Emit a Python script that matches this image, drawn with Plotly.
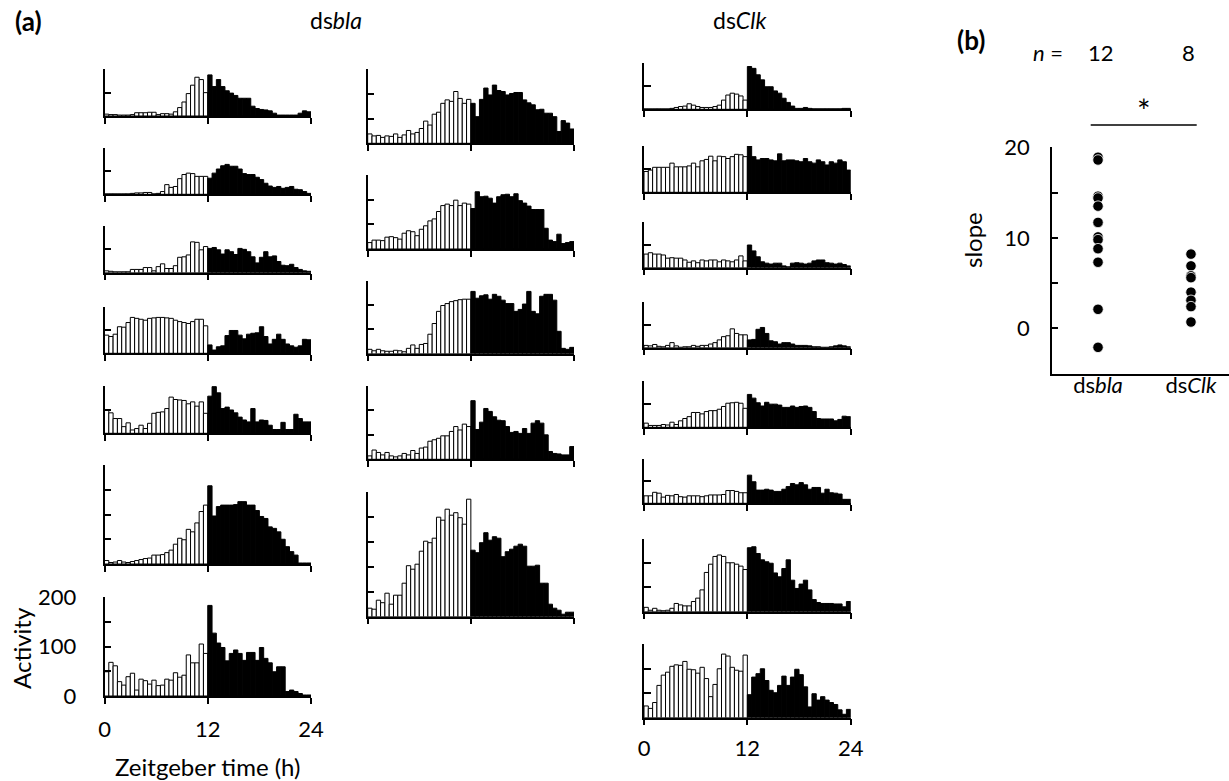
import plotly.graph_objects as go

W, H = 1229, 781

# half-hour bins across the 24 h LD cycle (first 24 bins = lights on)
ZT_BINS = [0.25 + 0.5 * i for i in range(48)]
LIGHT_BINS = 24

# activity counts per 30-min bin, dsbla individuals
BLA_1 = [4, 3, 3, 2, 2, 2, 3, 7, 7, 7, 8, 8, 3, 5, 5, 4, 9, 18, 30, 48, 66, 83, 78, 50,
         88, 63, 78, 63, 54, 49, 44, 38, 38, 38, 21, 16, 14, 13, 11, 6, 2, 2, 2, 2, 2, 6, 11, 9]
BLA_2 = [1, 1, 1, 1, 1, 1, 2, 3, 3, 4, 4, 1, 2, 6, 21, 15, 17, 34, 43, 46, 45, 39, 39, 39,
         35, 46, 55, 62, 65, 61, 61, 55, 45, 43, 43, 37, 32, 24, 18, 15, 17, 13, 15, 17, 11, 10, 6, 2]
BLA_3 = [4, 3, 2, 2, 2, 2, 7, 7, 7, 11, 11, 4, 13, 19, 9, 9, 15, 33, 34, 38, 66, 65, 49, 56,
         52, 54, 49, 40, 49, 45, 39, 52, 50, 45, 34, 21, 33, 45, 34, 36, 24, 16, 15, 18, 11, 7, 4, 3]
BLA_4 = [39, 36, 41, 57, 56, 66, 77, 75, 73, 71, 75, 76, 77, 77, 76, 75, 71, 68, 66, 64, 68, 73, 73, 59,
         18, 7, 14, 16, 38, 49, 49, 39, 31, 41, 43, 44, 57, 36, 20, 30, 41, 30, 20, 16, 13, 16, 30, 29]
BLA_5 = [50, 43, 31, 31, 14, 22, 7, 10, 17, 10, 21, 42, 44, 45, 52, 76, 71, 70, 69, 62, 66, 57, 66, 42,
         78, 98, 85, 52, 55, 49, 43, 34, 28, 24, 52, 24, 28, 27, 17, 8, 8, 23, 8, 8, 40, 31, 24, 24]
BLA_6 = [7, 3, 4, 7, 4, 3, 5, 7, 9, 11, 12, 18, 18, 19, 23, 28, 40, 52, 49, 70, 65, 83, 106, 119,
         158, 97, 116, 119, 119, 119, 120, 126, 126, 119, 119, 108, 96, 92, 75, 72, 65, 50, 35, 25, 18, 2, 2, 2]
BLA_7 = [49, 68, 61, 29, 22, 39, 46, 12, 34, 31, 24, 32, 21, 22, 34, 32, 47, 38, 42, 83, 67, 67, 105, 86,
         183, 127, 107, 98, 71, 86, 93, 86, 72, 88, 88, 72, 98, 76, 67, 49, 59, 59, 9, 12, 9, 5, 2, 2]
BLA_8 = [19, 15, 16, 12, 15, 14, 19, 12, 17, 26, 19, 22, 30, 45, 37, 59, 63, 81, 88, 85, 105, 91, 81, 89,
         81, 54, 89, 112, 98, 118, 107, 105, 98, 101, 103, 103, 88, 82, 78, 68, 69, 61, 61, 54, 24, 46, 41, 29]
BLA_9 = [13, 18, 18, 17, 24, 25, 23, 20, 32, 37, 35, 27, 40, 47, 57, 61, 76, 88, 91, 88, 99, 88, 93, 91,
         82, 116, 106, 107, 103, 93, 106, 110, 111, 106, 112, 98, 93, 87, 80, 80, 80, 42, 18, 15, 30, 11, 13, 15]
BLA_10 = [9, 6, 9, 6, 5, 5, 7, 6, 4, 11, 18, 11, 19, 21, 40, 62, 87, 99, 103, 107, 109, 111, 112, 112,
          128, 114, 119, 121, 112, 122, 118, 110, 103, 103, 87, 91, 102, 128, 87, 82, 118, 122, 122, 110, 46, 11, 9, 13]
BLA_11 = [7, 19, 14, 9, 14, 7, 5, 7, 12, 9, 18, 12, 23, 25, 37, 40, 43, 48, 48, 57, 67, 60, 72, 67,
          120, 61, 76, 104, 98, 87, 80, 79, 67, 55, 57, 53, 63, 53, 74, 79, 74, 50, 16, 12, 11, 9, 9, 26]
BLA_12 = [17, 15, 33, 28, 47, 25, 43, 43, 67, 102, 95, 105, 131, 151, 148, 157, 199, 193, 215, 203, 208, 198, 185, 235,
          133, 128, 148, 168, 153, 160, 157, 120, 130, 135, 141, 145, 141, 101, 101, 103, 67, 67, 25, 17, 13, 5, 9, 9]

# activity counts per 30-min bin, dsClk individuals
CLK_1 = [1, 1, 1, 1, 1, 1, 2, 4, 6, 7, 12, 9, 6, 4, 4, 4, 6, 9, 20, 31, 35, 33, 29, 20,
         93, 89, 75, 64, 49, 49, 40, 35, 24, 15, 7, 2, 2, 4, 2, 1, 1, 1, 1, 1, 1, 1, 2, 2]
CLK_2 = [45, 48, 54, 54, 54, 54, 63, 55, 55, 55, 57, 63, 55, 68, 71, 78, 68, 78, 77, 73, 77, 82, 81, 77,
         100, 77, 70, 73, 73, 70, 68, 83, 68, 70, 70, 68, 66, 73, 66, 63, 70, 66, 59, 66, 63, 70, 66, 48]
CLK_3 = [30, 33, 30, 30, 28, 21, 22, 21, 21, 17, 12, 15, 11, 17, 15, 17, 17, 13, 17, 15, 13, 17, 26, 15,
         50, 37, 24, 13, 10, 8, 10, 10, 4, 2, 10, 11, 10, 8, 10, 15, 17, 17, 11, 10, 8, 10, 7, 4]
CLK_4 = [5, 4, 7, 3, 2, 5, 11, 4, 1, 2, 2, 5, 3, 5, 5, 8, 11, 17, 24, 26, 41, 31, 28, 28,
         17, 18, 40, 44, 31, 15, 13, 8, 11, 11, 8, 5, 5, 5, 4, 2, 2, 1, 1, 2, 4, 6, 4, 2]
CLK_5 = [9, 4, 4, 4, 6, 5, 11, 6, 14, 19, 23, 32, 32, 29, 34, 36, 36, 39, 45, 52, 53, 54, 52, 41,
         71, 63, 53, 46, 54, 50, 50, 48, 43, 43, 46, 43, 45, 46, 43, 34, 19, 18, 18, 18, 14, 17, 24, 23]
CLK_6 = [17, 17, 25, 23, 14, 18, 17, 20, 15, 14, 17, 17, 17, 15, 17, 19, 19, 19, 20, 29, 29, 27, 24, 24,
         64, 49, 30, 30, 32, 30, 27, 27, 32, 38, 45, 42, 47, 42, 32, 36, 36, 23, 32, 24, 23, 21, 9, 9]
CLK_7 = [9, 3, 7, 3, 2, 3, 7, 17, 14, 12, 12, 21, 28, 45, 81, 98, 114, 117, 114, 101, 101, 98, 94, 87,
         132, 134, 120, 107, 103, 100, 80, 72, 89, 107, 65, 48, 57, 65, 45, 25, 19, 17, 17, 17, 16, 16, 10, 21]
CLK_8 = [24, 19, 31, 66, 87, 93, 105, 108, 107, 115, 99, 98, 91, 103, 80, 43, 68, 100, 130, 126, 103, 97, 95, 128,
         47, 83, 90, 100, 76, 56, 51, 66, 85, 66, 83, 99, 88, 63, 22, 49, 36, 43, 36, 31, 27, 16, 7, 17]

# (b) slope of evening activity increase per fly
SLOPE_BLA = [18.9, 18.6, 14.6, 14.4, 13.5, 11.7, 10.1, 9.8, 8.8, 7.3, 2.1, -2.1]
SLOPE_CLK = [8.2, 6.9, 5.8, 5.6, 4.0, 3.1, 2.4, 0.7]
GROUPS = ["ds<i>bla</i>", "ds<i>Clk</i>"]

# ---- page geometry (pixels) ----
COL_X = {1: (104.5, 311.0), 2: (367.7, 574.0), 3: (644.0, 850.7)}
# (series, column, top of y axis, baseline, number of 50-count intervals)
PANELS = [
    (BLA_1, 1, 69.3, 116.0, 2),
    (BLA_2, 1, 148.3, 194.3, 2),
    (BLA_3, 1, 226.0, 272.7, 2),
    (BLA_4, 1, 306.7, 353.3, 2),
    (BLA_5, 1, 385.7, 433.3, 2),
    (BLA_6, 1, 465.0, 564.0, 4),
    (BLA_7, 1, 597.0, 696.0, 4),
    (BLA_8, 2, 69.3, 143.3, 3),
    (BLA_9, 2, 175.0, 249.0, 3),
    (BLA_10, 2, 280.7, 353.7, 3),
    (BLA_11, 2, 386.0, 459.3, 3),
    (BLA_12, 2, 491.7, 616.7, 5),
    (CLK_1, 3, 63.3, 109.3, 2),
    (CLK_2, 3, 146.0, 192.3, 2),
    (CLK_3, 3, 222.3, 267.7, 2),
    (CLK_4, 3, 301.7, 347.7, 2),
    (CLK_5, 3, 381.0, 427.3, 2),
    (CLK_6, 3, 459.3, 503.3, 2),
    (CLK_7, 3, 539.0, 611.7, 3),
    (CLK_8, 3, 644.3, 717.7, 3),
]
LABELLED_Y = {7}
LABELLED_X = {7: 7, 20: 4}   # panel index -> tick label standoff

FONT = "Lato, 'Open Sans', sans-serif"
FS = 22          # tick labels
FS_HEAD = 23     # genotype headings
FS_TITLE = 24    # axis titles
AXW = 1.5


def fx(px):
    return px / W


def fy(px):
    return 1 - px / H


fig = go.Figure()
layout = {}

for i, (vals, col, top, base, nint) in enumerate(PANELS, start=1):
    sfx = "" if i == 1 else str(i)
    colors = ["white"] * LIGHT_BINS + ["black"] * (len(vals) - LIGHT_BINS)
    fig.add_trace(go.Bar(
        x=ZT_BINS, y=vals, width=0.5,
        marker=dict(color=colors, line=dict(color="black", width=1)),
        xaxis="x" + sfx, yaxis="y" + sfx,
        showlegend=False, hoverinfo="skip",
    ))
    x0, x1 = COL_X[col]
    ymax = 50 * nint
    xax = dict(
        domain=[fx(x0), fx(x1)], anchor="y" + sfx, range=[0, 24],
        tickvals=[0, 12, 24], ticks="outside", ticklen=6, tickwidth=AXW,
        tickcolor="black", showline=True, linewidth=AXW, linecolor="black",
        showgrid=False, zeroline=False, fixedrange=True, automargin=False,
        showticklabels=i in LABELLED_X,
        tickfont=dict(family=FONT, size=FS, color="black"),
    )
    if i in LABELLED_X:
        xax["ticklabelstandoff"] = LABELLED_X[i]
    tv = [50 * k for k in range(nint + 1)]
    yax = dict(
        domain=[fy(base), fy(top)], anchor="x" + sfx, range=[0, ymax],
        tickvals=tv, ticktext=[str(v) if v % 100 == 0 else "" for v in tv],
        ticks="inside", ticklen=7, tickwidth=AXW, tickcolor="black",
        showline=True, linewidth=AXW, linecolor="black",
        showgrid=False, zeroline=False, fixedrange=True, automargin=False,
        showticklabels=i in LABELLED_Y, ticklabelstandoff=22,
        tickfont=dict(family=FONT, size=FS, color="black"),
    )
    layout["xaxis" + sfx] = xax
    layout["yaxis" + sfx] = yax

# ---- panel (b): slope scatter ----
B = len(PANELS) + 1
bs = str(B)
B_LEFT, B_RIGHT, B_TOP, B_BOTTOM = 1052.0, 1229.0, 147.3, 373.6
for k, vals in enumerate([SLOPE_BLA, SLOPE_CLK], start=1):
    fig.add_trace(go.Scatter(
        x=[k] * len(vals), y=vals, mode="markers",
        marker=dict(color="black", size=10.5, line=dict(color="white", width=0.8)),
        xaxis="x" + bs, yaxis="y" + bs, showlegend=False, hoverinfo="skip",
        cliponaxis=False,
    ))
layout["xaxis" + bs] = dict(
    domain=[fx(B_LEFT), fx(B_RIGHT)], anchor="y" + bs, range=[0.505, 2.409],
    tickvals=[1, 2], ticktext=GROUPS, ticks="", showline=True, linewidth=AXW,
    linecolor="black", showgrid=False, zeroline=False, fixedrange=True,
    automargin=False, ticklabelstandoff=-9,
    tickfont=dict(family=FONT, size=FS, color="black"),
)
layout["yaxis" + bs] = dict(
    domain=[fy(B_BOTTOM), fy(B_TOP)], anchor="x" + bs, range=[-5, 20],
    tickvals=[0, 5, 10, 15, 20], ticktext=["0", "", "10", "", "20"],
    ticks="inside", ticklen=6, tickwidth=AXW, tickcolor="black",
    showline=True, linewidth=AXW, linecolor="black", showgrid=False,
    zeroline=False, fixedrange=True, automargin=False, ticklabelstandoff=16,
    tickfont=dict(family=FONT, size=FS, color="black"),
)

ann = []


def text(x, y, s, size=FS, **kw):
    d = dict(x=x, y=y, xref="paper", yref="paper", text=s, showarrow=False,
             font=dict(family=FONT, size=size, color="black"),
             xanchor="center", yanchor="middle")
    d.update(kw)
    ann.append(d)


text(fx(28), fy(21), "<b>(a)</b>", size=26)
text(fx(971), fy(40), "<b>(b)</b>", size=26)
text(fx(336), fy(20), GROUPS[0], size=FS_HEAD)
text(fx(740), fy(20), GROUPS[1], size=FS_HEAD)
text(fx(21), fy(648), "Activity", size=FS_TITLE, textangle=-90)
text(fx(208), fy(766), "Zeitgeber time (h)", size=FS_TITLE)
text(fx(973), fy(240), "slope", size=FS_TITLE, textangle=-90)
text(fx(1048), fy(52), "<i>n</i> =")
for k, vals in enumerate([SLOPE_BLA, SLOPE_CLK], start=1):
    ann.append(dict(x=k, y=fy(52), xref="x" + bs, yref="paper", text=str(len(vals)),
                    showarrow=False, font=dict(family=FONT, size=FS, color="black"),
                    xanchor="center", yanchor="middle", xshift=3 if k == 1 else -2))
text(fx(1144), fy(110), "*", size=32)

fig.update_layout(
    width=W, height=H, margin=dict(l=0, r=0, t=0, b=0, pad=0),
    autosize=False,
    paper_bgcolor="white", plot_bgcolor="white",
    font=dict(family=FONT, size=FS, color="black"),
    annotations=ann,
    shapes=[dict(type="line", xref="paper", yref="paper",
                 x0=fx(1090.7), x1=fx(1196.7), y0=fy(125), y1=fy(125),
                 line=dict(color="black", width=1.5))],
    **layout,
)

fig.write_html(
    "out.html",
    config={"responsive": False, "displayModeBar": False},
    post_script="document.body.style.margin='0';document.body.style.overflow='hidden';",
)
